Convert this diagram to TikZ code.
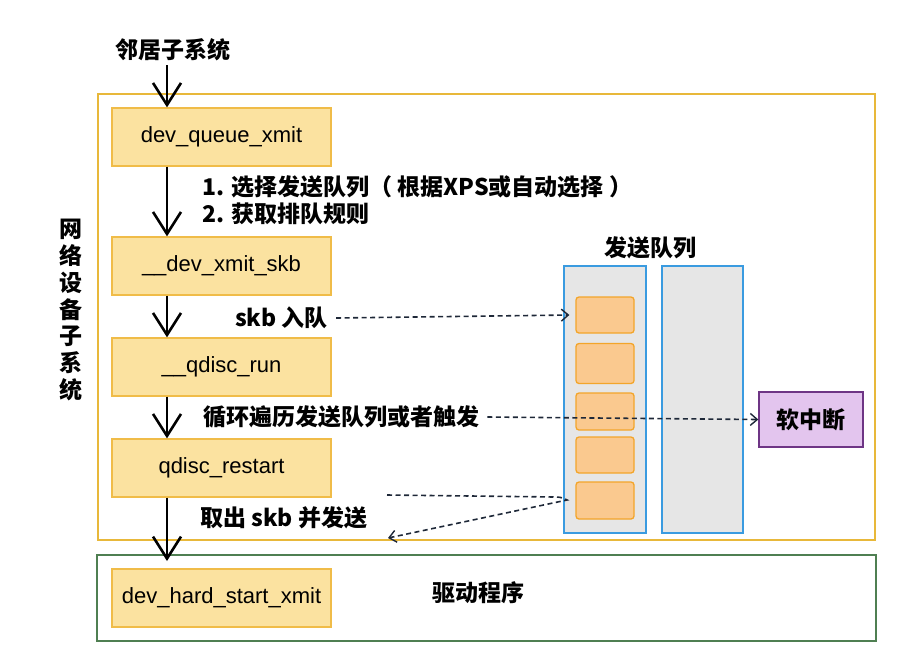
\documentclass[tikz,border=0pt]{standalone}
\usepackage{fontspec}
\setmainfont{Liberation Sans}
\newfontfamily\cjk{Noto Sans CJK SC}
\usetikzlibrary{arrows.meta}
\definecolor{boxfill}{HTML}{FBE2A0}
\definecolor{boxdraw}{HTML}{F0BC48}
\definecolor{outerdraw}{HTML}{E8B83A}
\definecolor{greendraw}{HTML}{4F7F52}
\definecolor{colfill}{HTML}{E6E6E6}
\definecolor{coldraw}{HTML}{3A9BE0}
\definecolor{itemfill}{HTML}{FAC98F}
\definecolor{itemdraw}{HTML}{F3A52A}
\definecolor{softfill}{HTML}{E3C5EE}
\definecolor{softdraw}{HTML}{6E3585}
\definecolor{dashcol}{HTML}{1E2838}
\tikzset{
  fnbox/.style={draw=boxdraw,fill=boxfill,line width=1.3pt,minimum width=219pt,minimum height=58pt,inner sep=0pt,font=\fontsize{22}{26}\selectfont},
  flow/.style={line width=2.6pt,-{Straight Barb[length=22pt,width=28pt,line width=2.6pt]}},
  dlink/.style={dashcol,line width=1.6pt,dash pattern=on 5pt off 3.5pt,-{Straight Barb[length=7pt,width=12pt,line width=1.4pt]}},
  cjklab/.style={font=\cjk\bfseries\fontsize{23}{27}\selectfont,inner sep=0pt},
  qitem/.style={draw=itemdraw,fill=itemfill,line width=1.3pt,rounded corners=3pt,minimum width=58pt,inner sep=0pt},
  qcol/.style={draw=coldraw,fill=colfill,line width=1.3pt}
}
\begin{document}
\begin{tikzpicture}[x=1pt,y=-1pt]
\useasboundingbox (0,0) rectangle (917,670);
% containers
\draw[outerdraw,line width=1.3pt] (98,94) rectangle (875,540);
\draw[greendraw,line width=1.2pt] (97,555) rectangle (876,641);
% queue columns
\draw[qcol] (564,266) rectangle (646,533);
\draw[qcol] (662,266) rectangle (743,533);
\node[cjklab] (qlab) at (650,248) {发送队列};
\node[qitem,minimum height=36pt] (i1) at (605,315) {};
\node[qitem,minimum height=40pt] (i2) at (605,363.5) {};
\node[qitem,minimum height=37pt] (i3) at (605,411.5) {};
\node[qitem,minimum height=36pt] (i4) at (605,455) {};
\node[qitem,minimum height=37pt] (i5) at (605,500.5) {};
% soft irq
\node[draw=softdraw,fill=softfill,line width=1.3pt,minimum width=104pt,minimum height=55pt,inner sep=0pt,cjklab] (soft) at (811,419.5) {软中断};
% function boxes
\node[fnbox] (q1) at (221.5,137) {dev\_queue\_xmit};
\node[fnbox] (q2) at (221.5,266) {\_\_dev\_xmit\_skb};
\node[fnbox] (q3) at (221.5,367) {\_\_qdisc\_run};
\node[fnbox] (q4) at (221.5,468) {qdisc\_restart};
\node[fnbox] (q5) at (221.5,598) {dev\_hard\_start\_xmit};
% labels
\node[cjklab] (top) at (173,50) {邻居子系统};
\node[cjklab,align=center,font=\cjk\bfseries\fontsize{23}{26.7}\selectfont] (side) at (71,310) {网\\络\\设\\备\\子\\系\\统};
\node[cjklab,anchor=west,align=left] (l1) at (202,200) {1. 选择发送队列（ 根据XPS或自动选择 ）\\2. 获取排队规则};
\node[cjklab,anchor=west] (lskb) at (235,318) {skb 入队};
\node[cjklab,anchor=west] (lloop) at (203,417) {循环遍历发送队列或者触发};
\node[cjklab,anchor=west] (lout) at (200,518) {取出 skb 并发送};
\node[cjklab] (drv) at (478,593) {驱动程序};
% main flow
\coordinate (xa) at (167,0);
\coordinate (a0) at (167,65);
\draw[flow] (a0) -- (q1.north -| xa);
\draw[flow] (q1.south -| xa) -- (q2.north -| xa);
\draw[flow] (q2.south -| xa) -- (q3.north -| xa);
\draw[flow] (q3.south -| xa) -- (q4.north -| xa);
\coordinate (a5) at (167,561);
\draw[flow] (q4.south -| xa) -- (a5);
% dashed links
\draw[dlink] ([xshift=8pt]lskb.east) -- ([xshift=-6pt]i1.west);
\draw[dlink] ([xshift=8pt]lloop.east) -- (soft.west);
\coordinate (cs) at (387,495);
\coordinate (cm) at (555,497);
\coordinate (cv) at (567,500);
\coordinate (ce) at (388,538);
\draw[dlink] (cs) -- (cm) to[out=0,in=150] (cv) -- (ce);
\end{tikzpicture}
\end{document}
